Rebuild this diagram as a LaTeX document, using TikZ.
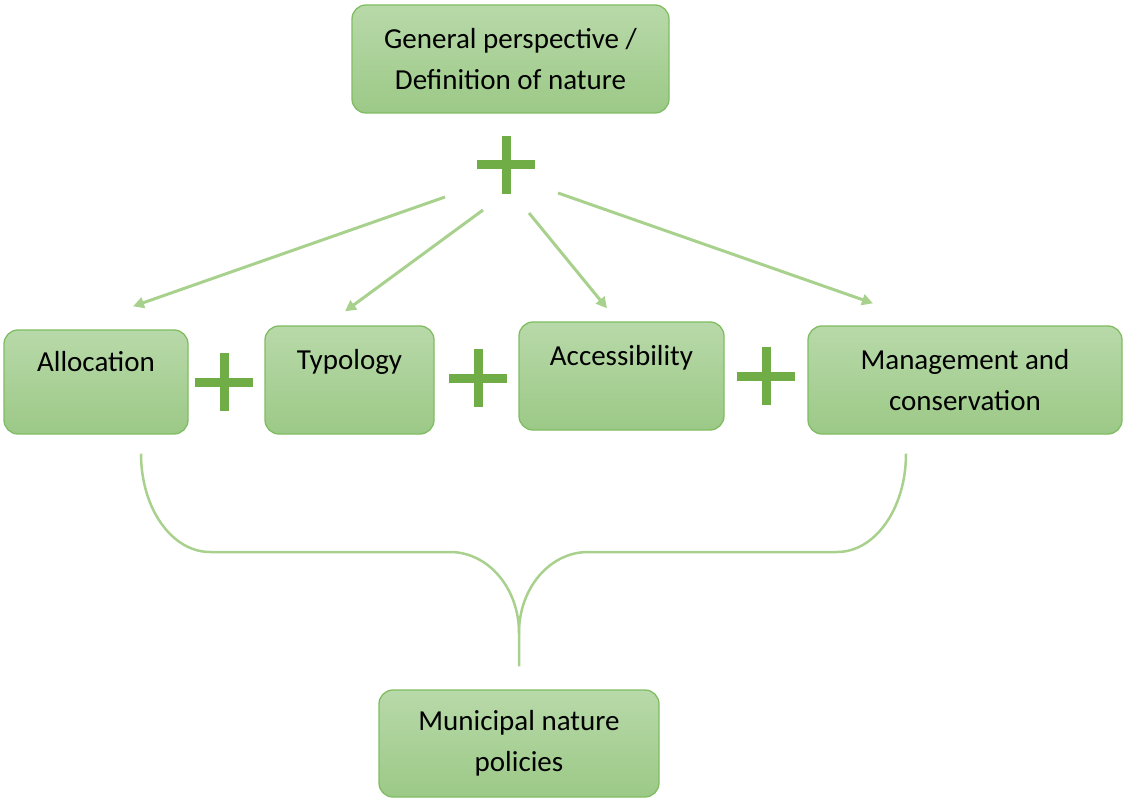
\documentclass[tikz,border=0pt]{standalone}
\usepackage{fontspec}
\setmainfont{Carlito}
\usetikzlibrary{arrows.meta,positioning}
\definecolor{boxtop}{RGB}{184,217,169}
\definecolor{boxbot}{RGB}{156,201,135}
\definecolor{boxline}{RGB}{128,189,98}
\definecolor{plusgreen}{RGB}{112,173,71}
\definecolor{linkgreen}{RGB}{169,209,142}
\begin{document}
\begin{tikzpicture}[x=1pt,y=-1pt,>={Triangle[length=11pt,width=11pt]},
  box/.style={draw=boxline,line width=1.3pt,rounded corners=14pt,top color=boxtop,bottom color=boxbot,align=center,inner sep=0pt,font=\fontsize{29}{41}\selectfont},
  plus/.style={minimum size=58,inner sep=0pt},
  link/.style={linkgreen,line width=3pt}]
\useasboundingbox (0,0) rectangle (1124,799);
\node[box,minimum width=317,minimum height=108] (top) at (510.5,59) {General perspective /\\Definition of nature};
\node[box,minimum width=184,minimum height=104] (alloc) at (96,382) {Allocation\\~};
\node[box,minimum width=169,minimum height=108] (typo) at (349.5,380) {Typology\\~};
\node[box,minimum width=205,minimum height=108] (access) at (621.5,376) {Accessibility\\~};
\node[box,minimum width=314,minimum height=108] (manage) at (965,380) {Management and\\conservation};
\node[box,minimum width=280,minimum height=107] (muni) at (519,743.5) {Municipal nature\\policies};
\node[plus] (p0) at (506,165) {};\node[plus] (p1) at (224,382) {};
\node[plus] (p2) at (478,378) {};\node[plus] (p3) at (766,376) {};
\foreach \p in {p0,p1,p2,p3} \draw[plusgreen,line width=9pt] (\p.west)--(\p.east) (\p.north)--(\p.south);
% arrows from the plus to the four aspects
\coordinate (s1) at (445,197);\coordinate (s2) at (483,210);\coordinate (s3) at (529,213);\coordinate (s4) at (558,193);
\draw[link,->] (s1)--([xshift=37pt,yshift=23pt]alloc.north);
\draw[link,->] (s2)--([xshift=-4.5pt,yshift=14pt]typo.north);
\draw[link,->] (s3)--([xshift=-14.5pt,yshift=13pt]access.north);
\draw[link,->] (s4)--([xshift=-92pt,yshift=22pt]manage.north);
% brace down to the policies
\coordinate (bl) at ([xshift=45pt,yshift=-19pt]alloc.south);\coordinate (br) at ([xshift=-59pt,yshift=-19pt]manage.south);
\coordinate (bm) at (519,633);\coordinate (be) at ([yshift=23pt]muni.north);
\draw[link,line width=2.5pt] (bl) .. controls ++(0,55) and (172,552) .. (210,552) -- (450,552) .. controls (488,552) and (519,588) .. (bm) -- (be);
\draw[link,line width=2.5pt] (br) .. controls ++(0,55) and (875,552) .. (837,552) -- (588,552) .. controls (550,552) and (519,588) .. (bm);
\end{tikzpicture}
\end{document}
